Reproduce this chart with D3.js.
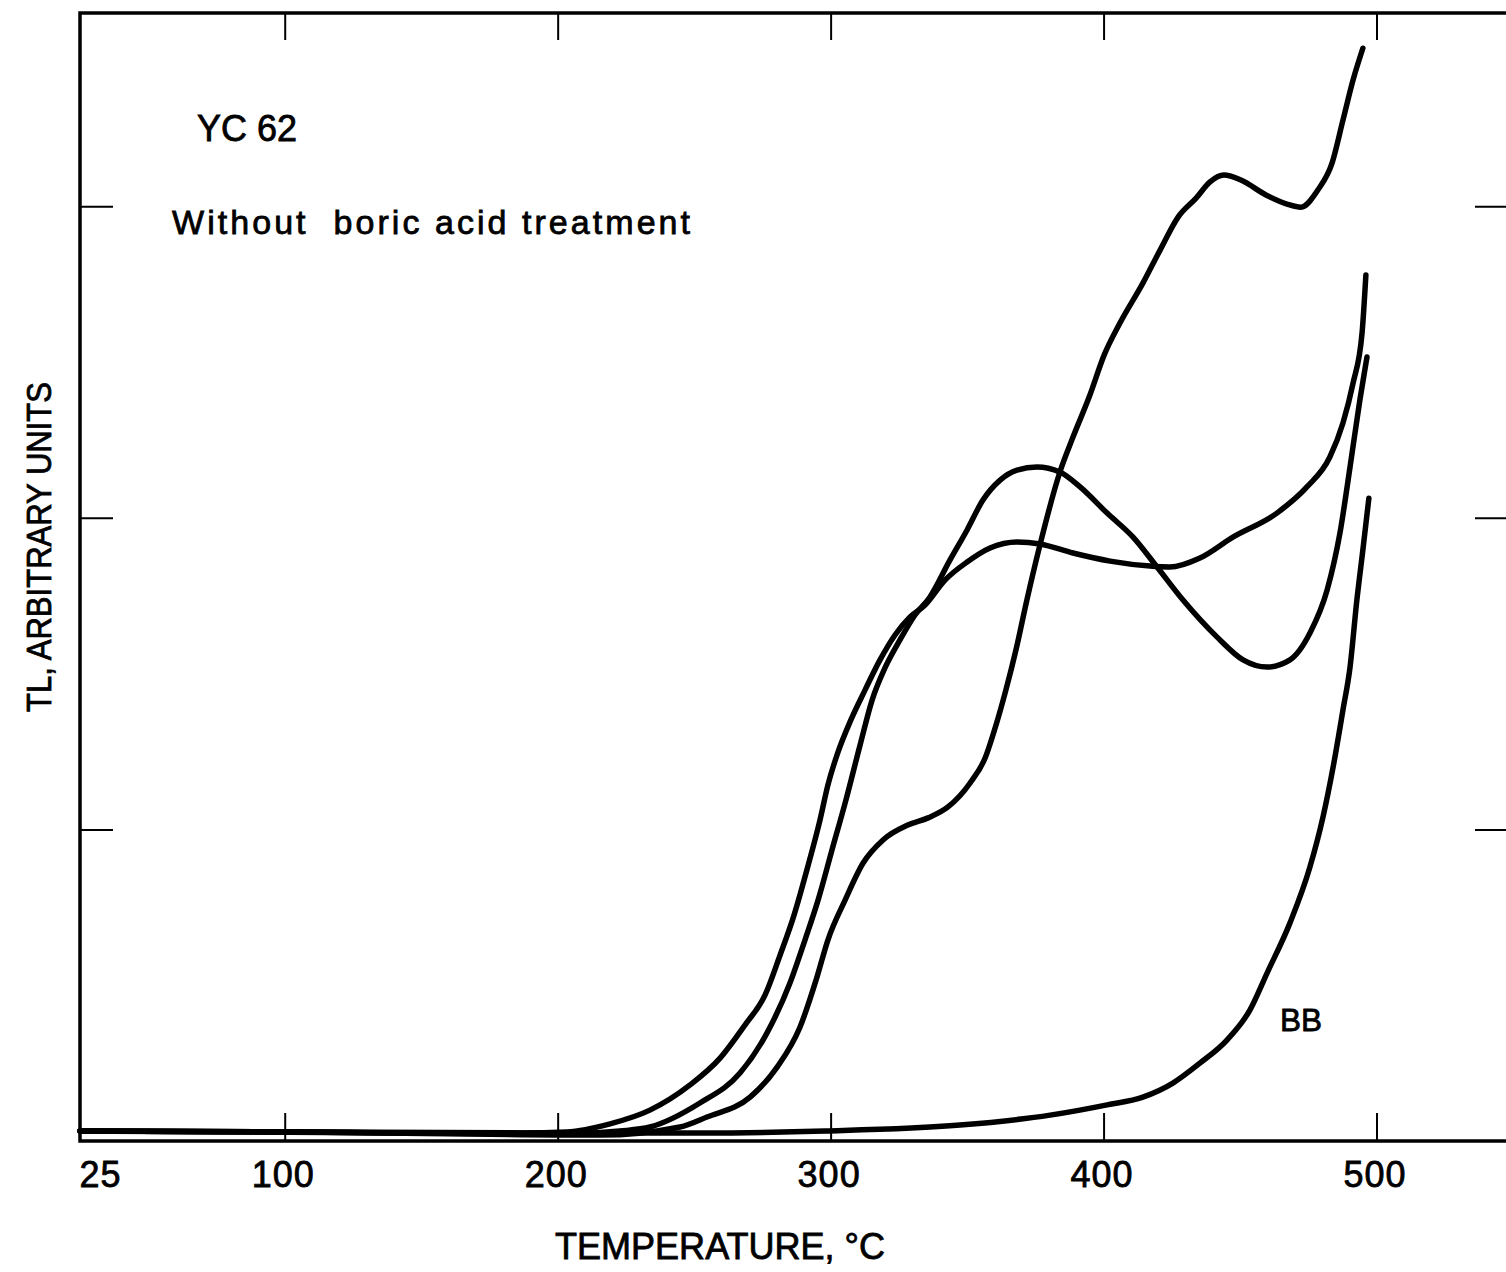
<!DOCTYPE html>
<html>
<head>
<meta charset="utf-8">
<script src="https://cdn.jsdelivr.net/npm/d3@7"></script>
<style>
  html, body { margin: 0; padding: 0; background: #fff; }
  svg { display: block; }
  text { font-family: "Liberation Sans", Arial, sans-serif; fill: #000; stroke: #000; stroke-width: 0.8px; }
</style>
</head>
<body>
<svg id="chart" width="1506" height="1272"></svg>
<script>
// ---- Data (temperature °C, TL arbitrary units) ----
const xTickValues = [100, 200, 300, 400, 500];
const xTickLabels = ["25", "100", "200", "300", "400", "500"];
const xLabelValues = [25, 100, 200, 300, 400, 500];
const yTickValues = [1, 2, 3];

const curveA = [
  [25,0.032],[105.6,0.029],[186.2,0.026],[203.4,0.029],[219.2,0.055],[233.8,0.099],
  [248.5,0.180],[259.5,0.266],[268.6,0.372],[276.0,0.469],[281.5,0.597],[286.6,0.725],
  [291.3,0.870],[296.1,1.030],[299.0,1.142],[302.7,1.248],[307.1,1.345],[312.6,1.447],
  [318.1,1.544],[323.6,1.624],[329.1,1.682],[334.6,1.720],[341.9,1.800],[350.0,1.858],
  [358.4,1.903],[368.3,1.922],[376.7,1.916],[388.8,1.887],[402.4,1.861],[417.0,1.845],
  [424.3,1.842],[435.3,1.871],[447.4,1.938],[463.5,2.015],[474.5,2.099],[482.9,2.195],
  [487.7,2.304],[491.4,2.432],[494.7,2.593],[496.1,2.779]
];
const curveB = [
  [25,0.032],[105.6,0.029],[200.9,0.022],[222.8,0.032],[233.8,0.045],[252.1,0.122],
  [266.8,0.218],[276.7,0.347],[285.1,0.507],[290.6,0.645],[295.4,0.773],[300.5,0.934],
  [305.6,1.094],[310.8,1.271],[315.2,1.415],[319.9,1.518],[325.4,1.608],[330.9,1.688],
  [336.4,1.746],[343.7,1.864],[350.0,1.961],[355.8,2.057],[362.1,2.121],[368.3,2.153],
  [375.6,2.163],[384.0,2.147],[391.4,2.099],[401.3,2.015],[410.8,1.938],[419.6,1.842],
  [429.1,1.736],[441.6,1.617],[451.1,1.544],[459.9,1.521],[468.3,1.544],[475.6,1.630],
  [481.9,1.768],[486.6,1.951],[490.3,2.163],[493.9,2.378],[496.5,2.516]
];
const curveC = [
  [25,0.032],[105.6,0.029],[215.5,0.019],[244.8,0.045],[254.7,0.077],[270.5,0.141],
  [280.4,0.237],[288.8,0.366],[295.0,0.526],[299.0,0.645],[305.3,0.773],[311.9,0.892],
  [319.2,0.966],[328.3,1.014],[335.7,1.037],[343.0,1.072],[351.1,1.149],[356.6,1.229],
  [360.6,1.335],[364.2,1.447],[367.9,1.576],[371.9,1.736],[376.7,1.913],[384.0,2.147],
  [388.8,2.259],[395.0,2.394],[400.2,2.522],[406.0,2.625],[414.4,2.753],[420.7,2.859],
  [427.3,2.965],[433.9,3.026],[439.0,3.078],[444.1,3.100],[450.3,3.084],[459.5,3.036],
  [467.2,3.007],[472.3,2.997],[478.5,3.052],[483.7,3.138],[487.7,3.276],[491.4,3.405],
  [495.0,3.507]
];
const curveBB = [
  [25,0.032],[142.2,0.026],[252.1,0.026],[297.9,0.032],[347.4,0.051],[380.4,0.083],
  [401.3,0.116],[414.4,0.141],[425.4,0.186],[435.3,0.250],[445.2,0.324],[453.6,0.420],
  [459.9,0.539],[468.3,0.700],[475.6,0.879],[480.4,1.040],[484.1,1.200],[487.7,1.383],
  [490.3,1.521],[492.8,1.736],[495.0,1.897],[497.2,2.063]
];
const seriesList = [curveA, curveB, curveC, curveBB];

// ---- Layout ----
const svg = d3.select("#chart");
const x = d3.scaleLinear().domain([25, 550]).range([80, 1513]);
const y = d3.scaleLinear().domain([0, 3.62]).range([1141, 13]);

// frame
svg.append("rect")
  .attr("x", x(25)).attr("y", y(3.62))
  .attr("width", x(550) - x(25)).attr("height", y(0) - y(3.62))
  .attr("fill", "none").attr("stroke", "#000").attr("stroke-width", 3.5);

// bottom axis: inward tick marks
svg.append("g").attr("transform", `translate(0,${y(0)})`)
  .call(d3.axisBottom(x).tickValues(xTickValues).tickSize(-28).tickFormat(""));
// bottom axis labels
const gBL = svg.append("g").attr("transform", `translate(0,${y(0)})`)
  .call(d3.axisBottom(x).tickValues(xLabelValues).tickSize(0).tickPadding(20)
    .tickFormat((d, i) => xTickLabels[i]));
gBL.selectAll(".tick text")
  .attr("font-size", 36).attr("font-family", "'Liberation Sans', Arial, sans-serif")
  .attr("fill", "#000").attr("stroke", "#000").attr("stroke-width", 0.8)
  .attr("dx", d => d === 25 ? 20 : -2).attr("letter-spacing", 1);

// top axis
svg.append("g").attr("transform", `translate(0,${y(3.62)})`)
  .call(d3.axisTop(x).tickValues(xTickValues).tickSize(-27).tickFormat(""));
// left axis
svg.append("g").attr("transform", `translate(${x(25)},0)`)
  .call(d3.axisLeft(y).tickValues(yTickValues).tickSize(-33).tickFormat(""));
// right axis
svg.append("g").attr("transform", `translate(${x(550)},0)`)
  .call(d3.axisRight(y).tickValues(yTickValues).tickSize(-38).tickFormat(""));

svg.selectAll(".domain").remove();
svg.selectAll(".tick line").attr("stroke", "#000").attr("stroke-width", 2);

// curves
const line = d3.line()
  .x(d => x(d[0])).y(d => y(d[1]))
  .curve(d3.curveMonotoneX);
svg.append("g").selectAll("path").data(seriesList).join("path")
  .attr("d", line)
  .attr("fill", "none").attr("stroke", "#000")
  .attr("stroke-width", 5.5).attr("stroke-linejoin", "round").attr("stroke-linecap", "round");

// texts
svg.append("text").attr("x", 197).attr("y", 141)
  .attr("font-size", 36).attr("textLength", 100).attr("lengthAdjust", "spacingAndGlyphs")
  .text("YC 62");
svg.append("text").attr("x", 172).attr("y", 234)
  .attr("font-size", 34).attr("textLength", 518).attr("lengthAdjust", "spacing")
  .attr("xml:space", "preserve").style("white-space", "pre")
  .text("Without  boric acid treatment");
svg.append("text").attr("x", 1280).attr("y", 1031)
  .attr("font-size", 32).attr("textLength", 42).attr("lengthAdjust", "spacingAndGlyphs")
  .text("BB");
svg.append("text").attr("x", 555).attr("y", 1259)
  .attr("font-size", 36).attr("textLength", 330).attr("lengthAdjust", "spacingAndGlyphs")
  .text("TEMPERATURE, °C");
svg.append("text")
  .attr("transform", "translate(51,712) rotate(-90)")
  .attr("font-size", 35).attr("textLength", 330).attr("lengthAdjust", "spacingAndGlyphs")
  .text("TL, ARBITRARY UNITS");
</script>
</body>
</html>
